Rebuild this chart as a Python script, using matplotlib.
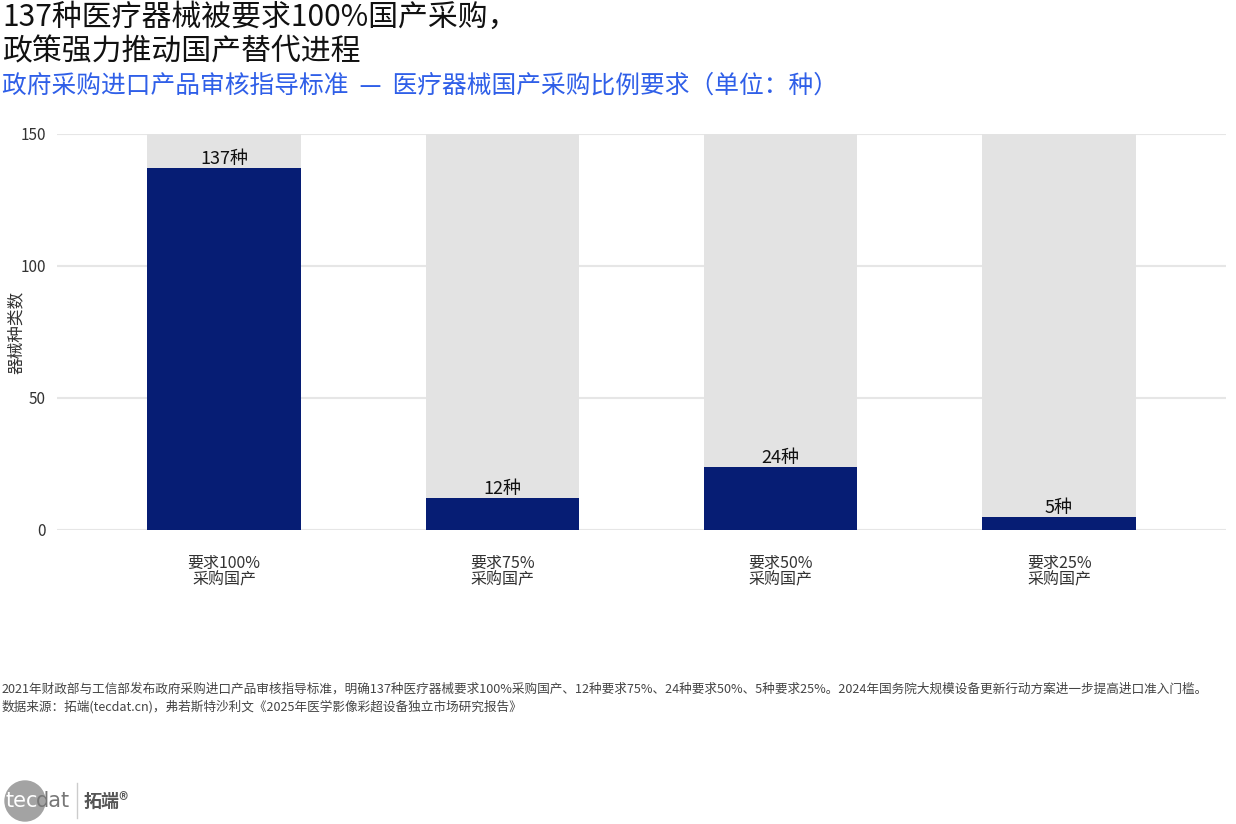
import matplotlib
matplotlib.use("Agg")
import matplotlib.pyplot as plt
from matplotlib.patches import Ellipse

plt.rcParams['font.family'] = ['Noto Sans CJK SC', 'DejaVu Sans']

categories = ["要求100%\n采购国产", "要求75%\n采购国产", "要求50%\n采购国产", "要求25%\n采购国产"]
values = [137, 12, 24, 5]
labels = ["137种", "12种", "24种", "5种"]
bg_max = 150
yticks = [0, 50, 100, 150]

title = "137种医疗器械被要求100%国产采购，\n政策强力推动国产替代进程"
subtitle = "政府采购进口产品审核指导标准  —  医疗器械国产采购比例要求（单位：种）"
note1 = ("2021年财政部与工信部发布政府采购进口产品审核指导标准，明确137种医疗器械要求100%采购国产、12种要求75%、24种要求50%、5种要求25%。"
         "2024年国务院大规模设备更新行动方案进一步提高进口准入门槛。")
note2 = "数据来源：拓端(tecdat.cn)，弗若斯特沙利文《2025年医学影像彩超设备独立市场研究报告》"

W, H = 1236, 824
fig = plt.figure(figsize=(W/100, H/100), dpi=100)
ax = fig.add_axes([57/W, 1-530/H, (1226-57)/W, (530-134)/H])

x = list(range(len(categories)))
ax.bar(x, [bg_max]*len(x), width=0.55, color="#e3e3e3", zorder=2)
ax.bar(x, values, width=0.55, color="#061d74", zorder=3)
for xi, v, lab in zip(x, values, labels):
    ax.text(xi, v, lab, ha="center", va="bottom", fontsize=13, color="#111111", zorder=4)

ax.set_xlim(-0.6, 3.6)
ax.set_ylim(0, 150)
ax.set_yticks(yticks)
ax.set_yticklabels([str(t) for t in yticks], fontsize=11, color="#333333")
ax.set_xticks(x)
ax.set_xticklabels(categories, fontsize=11.5, color="#333333", linespacing=0.95)
ax.tick_params(axis="both", length=0, pad=8)
ax.tick_params(axis="x", pad=18)
ax.grid(axis="y", color="#e6e6e6", linewidth=1.5, zorder=0)
for s in ax.spines.values():
    s.set_visible(False)
ax.set_ylabel("器械种类数", fontsize=12, color="#333333")
ax.yaxis.set_label_coords(-(57-25)/(1226-57), 0.5)

fig.text(2/W, 1-2/H, title, ha="left", va="top", fontsize=21.5, color="#111111", linespacing=1.15)
fig.text(2/W, 1-86/H, subtitle, ha="left", va="center", fontsize=17.8, color="#2f5fe8")
fig.text(2/W, 1-689/H, note1, ha="left", va="center", fontsize=9.1, color="#444444")
fig.text(2/W, 1-707/H, note2, ha="left", va="center", fontsize=9.1, color="#444444")

# logo
circ = Ellipse((25/W, 1-801/H), 40/W, 40/H, transform=fig.transFigure, color="#a3a3a3", zorder=1)
fig.patches.append(circ)
fig.text(5/W, 1-801/H, "tec", ha="left", va="center", fontsize=15, color="white", fontfamily="DejaVu Sans")
fig.text(36/W, 1-801/H, "dat", ha="left", va="center", fontsize=15, color="#777777", fontfamily="DejaVu Sans")
fig.add_artist(plt.Line2D([77/W, 77/W], [1-783/H, 1-818/H], color="#cccccc", linewidth=1))
fig.text(84/W, 1-801/H, "拓端®", ha="left", va="center", fontsize=13, color="#555555", fontweight="bold")

fig.savefig("out.png", dpi=100)
